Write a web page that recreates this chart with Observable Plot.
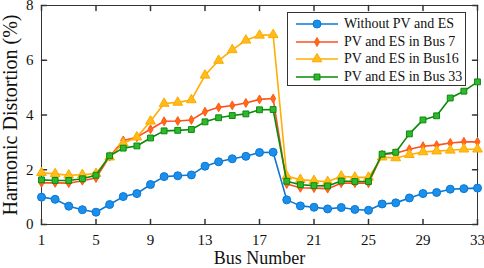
<!DOCTYPE html>
<html>
<head>
<meta charset="utf-8">
<script src="https://cdn.jsdelivr.net/npm/d3@7"></script>
<script src="https://cdn.jsdelivr.net/npm/@observablehq/plot@0.6"></script>
<style>
  body { margin: 0; background: white; }
  #wrap { position: relative; width: 484px; height: 268px; font-family: "Liberation Serif", "Times New Roman", serif; }
  #legend { position: absolute; left: 287px; top: 12px; width: 179px; height: 74px; border: 1px solid #333; background: white; box-sizing: border-box; }
  .row { position: absolute; left: 0; height: 18px; display: flex; align-items: center; font-size: 14px; color: #111; white-space: nowrap; }
  .row svg { display: block; margin-left: 8px; margin-right: 6px; }
</style>
</head>
<body>
<div id="wrap"></div>
<script>
const buses = [1,2,3,4,5,6,7,8,9,10,11,12,13,14,15,16,17,18,19,20,21,22,23,24,25,26,27,28,29,30,31,32,33];
const xTicks = [1,5,9,13,17,21,25,29,33];
const yTicks = [0,2,4,6,8];
const seriesNames = ["Without PV and ES", "PV and ES in Bus 7", "PV and ES in Bus16", "PV and ES in Bus 33"];

const withoutPV = [1.00,0.92,0.67,0.54,0.45,0.73,1.02,1.13,1.46,1.75,1.78,1.81,2.13,2.29,2.40,2.49,2.63,2.64,0.90,0.68,0.63,0.57,0.62,0.55,0.52,0.75,0.79,0.97,1.13,1.17,1.29,1.31,1.33];
const pvBus7 = [1.52,1.52,1.51,1.60,1.70,2.48,3.07,3.19,3.48,3.77,3.78,3.82,4.12,4.28,4.35,4.44,4.57,4.60,1.48,1.34,1.33,1.31,1.51,1.51,1.51,2.55,2.60,2.75,2.86,2.90,2.98,3.02,3.02];
const pvBus16 = [1.89,1.85,1.80,1.82,1.86,2.46,2.97,3.19,3.77,4.42,4.46,4.55,5.45,5.99,6.38,6.73,6.91,6.93,1.76,1.64,1.60,1.56,1.76,1.72,1.72,2.46,2.43,2.55,2.65,2.68,2.71,2.75,2.75];
const pvBus33 = [1.63,1.61,1.61,1.67,1.80,2.51,2.79,2.87,3.16,3.42,3.44,3.47,3.75,3.90,3.98,4.04,4.19,4.20,1.58,1.45,1.42,1.41,1.59,1.57,1.57,2.57,2.64,3.31,3.82,3.97,4.62,4.87,5.21];

const styles = [
  {line: "#0a78d2", fill: "#1b8fec", stroke: "#0a78d2", symbol: "circle", r: 4},
  {line: "#ff4f1f", fill: "#ff6a12", stroke: "#ff5a1a", symbol: "diamond", r: 2.7},
  {line: "#ffad00", fill: "#ffbd1c", stroke: "#ffa800", symbol: "triangle", r: 3.6},
  {line: "#0a8a0a", fill: "#2fb82f", stroke: "#0a8a0a", symbol: "square", r: 3.3}
];
const valueArrays = [withoutPV, pvBus7, pvBus16, pvBus33];
const series = seriesNames.map((name, k) => ({name, values: valueArrays[k], ...styles[k]}));

const tickShape = {draw(context, l) { context.moveTo(0, 0); context.lineTo(0, -l); }};
const frameColor = "#333";

const marks = [
  Plot.frame({stroke: frameColor, strokeWidth: 1}),
  Plot.vector(xTicks, {x: d => d, frameAnchor: "bottom", length: 5, rotate: 0, anchor: "start", shape: tickShape, stroke: frameColor}),
  Plot.vector(xTicks, {x: d => d, frameAnchor: "top", length: 5, rotate: 180, anchor: "start", shape: tickShape, stroke: frameColor}),
  Plot.vector(yTicks, {y: d => d, frameAnchor: "left", length: 5, rotate: 90, anchor: "start", shape: tickShape, stroke: frameColor}),
  Plot.vector(yTicks, {y: d => d, frameAnchor: "right", length: 5, rotate: -90, anchor: "start", shape: tickShape, stroke: frameColor}),
  Plot.axisX({ticks: xTicks, tickSize: 0, tickPadding: 10, label: null, fontSize: 15}),
  Plot.axisY({ticks: yTicks, tickSize: 0, tickPadding: 8, label: null, fontSize: 15}),
  Plot.text(["Bus Number"], {frameAnchor: "bottom", dy: 39, fontSize: 18, textAnchor: "middle"}),
  Plot.text(["Harmonic Distortion (%)"], {frameAnchor: "left", dx: -31, rotate: -90, fontSize: 20, textAnchor: "middle"})
];
for (const s of series) {
  const data = buses.map((b, i) => ({bus: b, v: s.values[i]}));
  marks.push(Plot.line(data, {x: "bus", y: "v", stroke: s.line, strokeWidth: 1.6}));
  marks.push(Plot.dot(data, {x: "bus", y: "v", symbol: s.symbol, r: s.r, fill: s.fill, stroke: s.stroke, strokeWidth: 1}));
}

const chart = Plot.plot({
  width: 484,
  height: 268,
  marginLeft: 41,
  marginRight: 7,
  marginTop: 5,
  marginBottom: 44,
  style: {fontFamily: "'Liberation Serif', 'Times New Roman', serif", background: "white", color: "#111", overflow: "visible"},
  x: {domain: [1, 33]},
  y: {domain: [0, 8]},
  marks
});

const wrap = document.getElementById("wrap");
wrap.append(chart);

const legend = d3.select(wrap).append("div").attr("id", "legend");
const symbolTypes = {circle: d3.symbolCircle, diamond: d3.symbolDiamond, triangle: d3.symbolTriangle, square: d3.symbolSquare};
series.forEach((s, k) => {
  const row = legend.append("div").attr("class", "row").style("top", (2 + k * 17.6) + "px");
  const svg = row.append("svg").attr("width", 42).attr("height", 18);
  svg.append("line").attr("x1", 0).attr("x2", 42).attr("y1", 9).attr("y2", 9).attr("stroke", s.line).attr("stroke-width", 1.6);
  svg.append("path").attr("transform", "translate(21,9)")
    .attr("d", d3.symbol(symbolTypes[s.symbol], Math.PI * s.r * s.r)())
    .attr("fill", s.fill).attr("stroke", s.stroke);
  row.append("span").text(s.name);
});
</script>
</body>
</html>
